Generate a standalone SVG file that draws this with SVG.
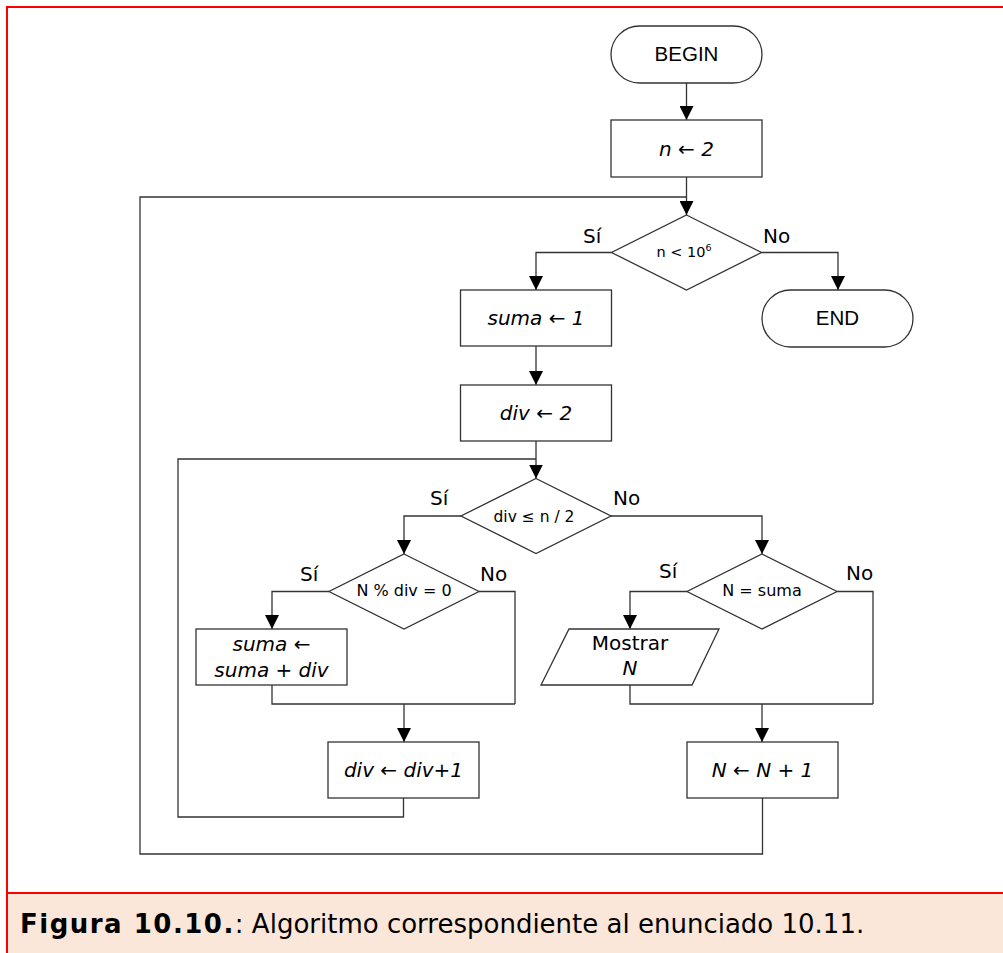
<svg xmlns="http://www.w3.org/2000/svg" width="1003" height="953" viewBox="0 0 1003 953">
  <defs>
    <marker id="arrow" markerUnits="userSpaceOnUse" markerWidth="14" markerHeight="14" refX="14" refY="7" orient="auto">
      <path d="M0,0 L14,7 L0,14 z" fill="#000"/>
    </marker>
    <style>
      .shape { fill: #fff; stroke: #333; stroke-width: 1.3; }
      .wire { fill: none; stroke: #333; stroke-width: 1.3; }
      .arr { marker-end: url(#arrow); }
      .term { font-family: "Liberation Sans", Arial, sans-serif; font-size: 20.5px; fill: #000; text-anchor: middle; }
      .proc { font-family: "DejaVu Sans", Verdana, sans-serif; font-size: 20px; font-style: italic; fill: #000; text-anchor: middle; }
      .cond { font-family: "DejaVu Sans", Verdana, sans-serif; font-size: 15.5px; fill: #000; text-anchor: middle; }
      .lbl { font-family: "DejaVu Sans", Verdana, sans-serif; font-size: 20px; fill: #000; }
      .cap { font-family: "DejaVu Sans", Verdana, sans-serif; font-size: 26px; fill: #000; }
    </style>
  </defs>

  <!-- page frame and caption band -->
  <rect x="0" y="0" width="1003" height="953" fill="#fff"/>
  <rect x="8" y="894" width="995" height="59" fill="#fbe7d9"/>
  <rect x="6" y="6" width="997" height="2" fill="#f00"/>
  <rect x="6" y="6" width="2" height="947" fill="#f00"/>
  <rect x="6" y="892" width="997" height="2" fill="#f00"/>

  <!-- connectors -->
  <g id="connectors">
    <line class="wire arr" x1="686.5" y1="83" x2="686.5" y2="120"/>
    <line class="wire arr" x1="686.5" y1="177" x2="686.5" y2="215"/>
    <polyline class="wire arr" points="611.5,252.5 536,252.5 536,290"/>
    <polyline class="wire arr" points="761.5,252.5 838,252.5 838,290"/>
    <line class="wire arr" x1="536" y1="346" x2="536" y2="385"/>
    <line class="wire arr" x1="536" y1="441" x2="536" y2="478.5"/>
    <polyline class="wire arr" points="461,516 404,516 404,554"/>
    <polyline class="wire arr" points="611,516 762,516 762,554"/>
    <polyline class="wire arr" points="329,591.5 272,591.5 272,629"/>
    <polyline class="wire" points="479,591.5 515,591.5 515,704"/>
    <polyline class="wire" points="272,685 272,704 515,704"/>
    <line class="wire arr" x1="404" y1="704" x2="404" y2="742"/>
    <polyline class="wire" points="403.5,798 403.5,817 178,817 178,459 536,459"/>
    <polyline class="wire arr" points="687,591.5 630,591.5 630,629"/>
    <polyline class="wire" points="837,591.5 873,591.5 873,704"/>
    <polyline class="wire" points="630,685 630,704 873,704"/>
    <line class="wire arr" x1="762" y1="704" x2="762" y2="742"/>
    <polyline class="wire" points="762.5,798 762.5,854 140,854 140,197 686.5,197"/>
    <!-- branch labels -->
    <text class="lbl" x="583" y="243">Sí</text>
    <text class="lbl" x="763" y="243">No</text>
    <text class="lbl" x="430" y="505">Sí</text>
    <text class="lbl" x="613" y="505">No</text>
    <text class="lbl" x="300" y="581">Sí</text>
    <text class="lbl" x="480" y="581">No</text>
    <text class="lbl" x="659" y="578">Sí</text>
    <text class="lbl" x="846" y="580">No</text>
  </g>

  <g id="begin">
    <rect class="shape" x="611" y="26" width="151" height="57" rx="28.5" ry="28.5"/>
    <text class="term" x="686.5" y="61">BEGIN</text>
  </g>

  <g id="init-n">
    <rect class="shape" x="611" y="120" width="151" height="57"/>
    <text class="proc" x="686.5" y="156">n ← 2</text>
  </g>

  <g id="test-n">
    <polygon class="shape" points="686.5,215 761.5,252.5 686.5,290 611.5,252.5"/>
    <text class="cond" x="684" y="257" style="font-size:14.5px">n &lt; 10<tspan dy="-6" style="font-size:9.5px">6</tspan></text>
  </g>

  <g id="end">
    <rect class="shape" x="762" y="290" width="151" height="57" rx="28.5" ry="28.5"/>
    <text class="term" x="837.5" y="325">END</text>
  </g>

  <g id="init-suma">
    <rect class="shape" x="460.5" y="290" width="151" height="56"/>
    <text class="proc" x="536" y="325">suma ← 1</text>
  </g>

  <g id="init-div">
    <rect class="shape" x="460.5" y="385" width="151" height="56"/>
    <text class="proc" x="536" y="420">div ← 2</text>
  </g>

  <g id="test-div">
    <polygon class="shape" points="536,478.5 611,516 536,553.5 461,516"/>
    <text class="cond" x="534" y="522">div ≤ n / 2</text>
  </g>

  <g id="test-mod">
    <polygon class="shape" points="404,554 479,591.5 404,629 329,591.5"/>
    <text class="cond" x="404" y="596" style="font-size:16px">N % div = 0</text>
  </g>

  <g id="add-div">
    <rect class="shape" x="196" y="629" width="151" height="56"/>
    <text class="proc" x="271.5" y="651">suma ←</text>
    <text class="proc" x="271.5" y="677">suma + div</text>
  </g>

  <g id="inc-div">
    <rect class="shape" x="328" y="742" width="151" height="56"/>
    <text class="proc" x="403.5" y="777">div ← div+1</text>
  </g>

  <g id="test-perfect">
    <polygon class="shape" points="762,554 837,591.5 762,629 687,591.5"/>
    <text class="cond" x="762" y="596" style="font-size:16px">N = suma</text>
  </g>

  <g id="show-n">
    <polygon class="shape" points="569,629 719,629 692,685 541,685"/>
    <text class="proc" x="630" y="650" style="font-style:normal">Mostrar</text>
    <text class="proc" x="630" y="675">N</text>
  </g>

  <g id="inc-n">
    <rect class="shape" x="687" y="742" width="151" height="56"/>
    <text class="proc" x="762.5" y="777">N ← N + 1</text>
  </g>

  <text class="cap" x="20" y="933"><tspan font-weight="bold" letter-spacing="1.5">Figura 10.10.</tspan>: Algoritmo correspondiente al enunciado 10.11.</text>
</svg>
